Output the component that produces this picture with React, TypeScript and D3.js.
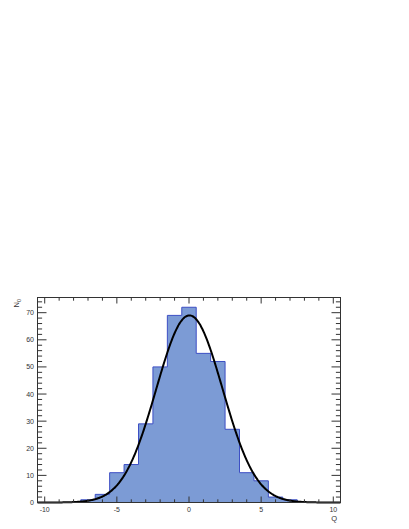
import React from "react";
import * as d3 from "d3";

// histogram bins (centres) and entries
const binCenters = [-10, -9, -8, -7, -6, -5, -4, -3, -2, -1, 0, 1, 2, 3, 4, 5, 6, 7, 8, 9, 10];
const counts = [0, 0, 0, 1, 3, 11, 14, 29, 50, 69, 72, 55, 52, 27, 11, 8, 2, 1, 0, 0, 0];
const binWidth = 1;

// gaussian fit: constant, mean, sigma
const fitParams = [69, 0.03, 2.3];

const xMajorTicks = [-10, -5, 0, 5, 10];
const xMinorTicks = [-10, -9, -8, -7, -6, -5, -4, -3, -2, -1, 0, 1, 2, 3, 4, 5, 6, 7, 8, 9, 10];
const yMajorTicks = [0, 10, 20, 30, 40, 50, 60, 70];
const yMinorTicks = [0, 2, 4, 6, 8, 10, 12, 14, 16, 18, 20, 22, 24, 26, 28, 30, 32, 34, 36, 38, 40, 42, 44, 46, 48, 50, 52, 54, 56, 58, 60, 62, 64, 66, 68, 70, 72, 74];

const W = 409,
  H = 529;
const left = 37.5,
  right = 340.5,
  top = 297.5,
  bottom = 502.5;

export default function App() {
  const x = d3.scaleLinear().domain([-10.5, 10.5]).range([left, right]);
  const y = d3.scaleLinear().domain([0, 75.6]).range([bottom, top]);

  // step outline of the histogram
  const steps: [number, number][] = [];
  binCenters.forEach((c, i) => {
    steps.push([c - binWidth / 2, counts[i]]);
    steps.push([c + binWidth / 2, counts[i]]);
  });
  const area = d3
    .area<[number, number]>()
    .x((d) => x(d[0]))
    .y0(y(0))
    .y1((d) => y(d[1]));
  const outline = d3
    .line<[number, number]>()
    .x((d) => x(d[0]))
    .y((d) => y(d[1]));

  const [A, mu, sig] = fitParams;
  const fitPts: [number, number][] = d3
    .range(-10.5, 10.5001, 0.05)
    .map((v) => [v, A * Math.exp(-((v - mu) * (v - mu)) / (2 * sig * sig))]);
  const fitLine = d3
    .line<[number, number]>()
    .x((d) => x(d[0]))
    .y((d) => y(d[1]))
    .curve(d3.curveMonotoneX);

  const axisCol = "#333";
  const font = "'Liberation Sans', Arial, sans-serif";

  return (
    <svg
      width={W}
      height={H}
      style={{ position: "absolute", left: 0, top: 0, background: "#fff" }}
    >
      <path d={area(steps) || ""} fill="#7c9bd5" />
      <path d={outline(steps) || ""} fill="none" stroke="#3d4fc4" strokeWidth={1} />
      <path d={fitLine(fitPts) || ""} fill="none" stroke="#000" strokeWidth={2} />

      {/* frame */}
      <rect
        x={left}
        y={top}
        width={right - left}
        height={bottom - top}
        fill="none"
        stroke={axisCol}
        strokeWidth={1}
      />

      {/* x ticks, bottom and top */}
      {xMinorTicks.map((t) => {
        const len = xMajorTicks.includes(t) ? 6 : 3.2;
        return (
          <g key={"xt" + t} stroke={axisCol} strokeWidth={1}>
            <line x1={x(t)} x2={x(t)} y1={bottom} y2={bottom - len} />
            <line x1={x(t)} x2={x(t)} y1={top} y2={top + len} />
          </g>
        );
      })}
      {/* y ticks, left and right */}
      {yMinorTicks.map((t) => {
        const len = yMajorTicks.includes(t) ? 9 : 4.6;
        return (
          <g key={"yt" + t} stroke={axisCol} strokeWidth={1}>
            <line x1={left} x2={left + len} y1={y(t)} y2={y(t)} />
            <line x1={right} x2={right - len} y1={y(t)} y2={y(t)} />
          </g>
        );
      })}

      {xMajorTicks.map((t) => (
        <text
          key={"xl" + t}
          x={x(t)}
          y={511.5}
          fontSize={7}
          fontFamily={font}
          textAnchor="middle"
          fill="#333"
        >
          {t}
        </text>
      ))}
      {yMajorTicks.map((t) => (
        <text
          key={"yl" + t}
          x={34}
          y={y(t) + 2.5}
          fontSize={7}
          fontFamily={font}
          textAnchor="end"
          fill="#333"
        >
          {t}
        </text>
      ))}

      <text x={337} y={521} fontSize={7.5} fontFamily={font} textAnchor="end" fill="#333">
        Q
      </text>
      <text
        transform="translate(18.5, 299) rotate(-90)"
        fontSize={7.5}
        fontFamily={font}
        textAnchor="end"
        fill="#333"
      >
        N
        <tspan fontSize={5.5} dy={2}>
          0
        </tspan>
      </text>
    </svg>
  );
}
